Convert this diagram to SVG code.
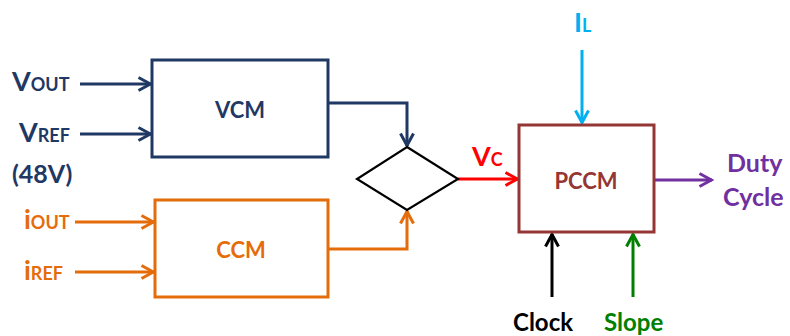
<svg xmlns="http://www.w3.org/2000/svg" width="790" height="336" viewBox="0 0 790 336">
<style>
text{font-family:Lato,"Open Sans","Liberation Sans",sans-serif;font-weight:bold}
.box{fill:#fff;stroke-width:3}
.ln{fill:none;stroke-width:3}
.big{font-size:27px}
.sm{font-size:18px}
</style>
<defs>
<marker id="aN" viewBox="0 0 16 16" refX="14.5" refY="8" markerWidth="16" markerHeight="16" markerUnits="userSpaceOnUse" orient="auto"><path d="M2,1.5 L14,8 L2,14.5" fill="none" stroke="#1F3864" stroke-width="3"/></marker>
<marker id="aO" viewBox="0 0 16 16" refX="14.5" refY="8" markerWidth="16" markerHeight="16" markerUnits="userSpaceOnUse" orient="auto"><path d="M2,1.5 L14,8 L2,14.5" fill="none" stroke="#E46C0A" stroke-width="3"/></marker>
<marker id="aR" viewBox="0 0 16 16" refX="14.5" refY="8" markerWidth="16" markerHeight="16" markerUnits="userSpaceOnUse" orient="auto"><path d="M2,1.5 L14,8 L2,14.5" fill="none" stroke="#FF0000" stroke-width="3"/></marker>
<marker id="aB" viewBox="0 0 16 16" refX="14.5" refY="8" markerWidth="16" markerHeight="16" markerUnits="userSpaceOnUse" orient="auto"><path d="M2,1.5 L14,8 L2,14.5" fill="none" stroke="#00B0F0" stroke-width="3"/></marker>
<marker id="aP" viewBox="0 0 16 16" refX="14.5" refY="8" markerWidth="16" markerHeight="16" markerUnits="userSpaceOnUse" orient="auto"><path d="M2,1.5 L14,8 L2,14.5" fill="none" stroke="#7030A0" stroke-width="3"/></marker>
<marker id="aK" viewBox="0 0 16 16" refX="14.5" refY="8" markerWidth="16" markerHeight="16" markerUnits="userSpaceOnUse" orient="auto"><path d="M2,1.5 L14,8 L2,14.5" fill="none" stroke="#000" stroke-width="3"/></marker>
<marker id="aG" viewBox="0 0 16 16" refX="14.5" refY="8" markerWidth="16" markerHeight="16" markerUnits="userSpaceOnUse" orient="auto"><path d="M2,1.5 L14,8 L2,14.5" fill="none" stroke="#008000" stroke-width="3"/></marker>
</defs>
<g id="connectors">
<line class="ln" x1="80" y1="84" x2="151" y2="84" stroke="#1F3864" marker-end="url(#aN)"/>
<line class="ln" x1="80" y1="134" x2="151" y2="134" stroke="#1F3864" marker-end="url(#aN)"/>
<line class="ln" x1="75" y1="222" x2="154" y2="222" stroke="#E46C0A" marker-end="url(#aO)"/>
<line class="ln" x1="75" y1="272" x2="154" y2="272" stroke="#E46C0A" marker-end="url(#aO)"/>
<polyline class="ln" points="329,103 407,103 407,146" stroke="#1F3864" marker-end="url(#aN)"/>
<polyline class="ln" points="329,249 407,249 407,211" stroke="#E46C0A" marker-end="url(#aO)"/>
<line class="ln" x1="458" y1="179" x2="518" y2="179" stroke="#FF0000" marker-end="url(#aR)"/>
<line class="ln" x1="582" y1="50" x2="582" y2="123" stroke="#00B0F0" marker-end="url(#aB)"/>
<line class="ln" x1="655" y1="180" x2="712" y2="180" stroke="#7030A0" marker-end="url(#aP)"/>
<line class="ln" x1="552" y1="297" x2="552" y2="234" stroke="#000" marker-end="url(#aK)"/>
<line class="ln" x1="633" y1="297" x2="633" y2="234" stroke="#008000" marker-end="url(#aG)"/>
</g>
<g id="vcm">
<rect class="box" x="152" y="60" width="176" height="97" stroke="#1F3864"/>
<text x="240" y="118" font-size="22" fill="#1F3864" text-anchor="middle">VCM</text>
</g>
<g id="ccm">
<rect class="box" x="155" y="200" width="173" height="97" stroke="#E46C0A"/>
<text x="241" y="258" font-size="22" fill="#E46C0A" text-anchor="middle">CCM</text>
</g>
<g id="sum">
<polygon points="407,147 458,179 407,210 357,179" fill="#fff" stroke="#000" stroke-width="2.2"/>
</g>
<g id="pccm">
<rect class="box" x="519" y="125" width="135" height="107" stroke="#943634"/>
<text x="586" y="189" font-size="22" fill="#943634" text-anchor="middle">PCCM</text>
</g>
<g id="labels">
<text x="12" y="91" fill="#1F3864"><tspan class="big">V</tspan><tspan class="sm">OUT</tspan></text>
<text x="19" y="142" fill="#1F3864"><tspan class="big">V</tspan><tspan class="sm">REF</tspan></text>
<text x="12" y="183" fill="#1F3864" font-size="25">(48V)</text>
<text x="24" y="229" fill="#E46C0A"><tspan class="big">i</tspan><tspan class="sm">OUT</tspan></text>
<text x="24" y="280" fill="#E46C0A"><tspan class="big">i</tspan><tspan class="sm">REF</tspan></text>
<text x="472" y="166" fill="#FF0000"><tspan class="big">V</tspan><tspan class="sm">C</tspan></text>
<text x="574" y="32" fill="#00B0F0"><tspan class="big">I</tspan><tspan class="sm">L</tspan></text>
<text x="727" y="172" fill="#7030A0" font-size="25">Duty</text>
<text x="723" y="206" fill="#7030A0" font-size="25">Cycle</text>
<text x="513" y="331" fill="#000" font-size="24">Clock</text>
<text x="604" y="331" fill="#008000" font-size="24">Slope</text>
</g>
</svg>
